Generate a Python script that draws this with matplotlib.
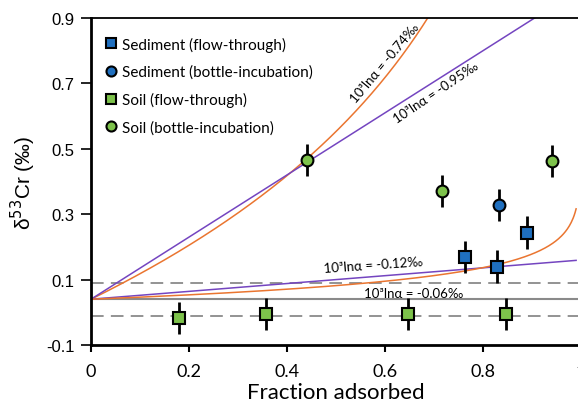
import numpy as np
import matplotlib
matplotlib.use("Agg")
import matplotlib.pyplot as plt

plt.rcParams['font.family'] = ['Lato', 'DejaVu Sans']

# initial solution composition and +/- 0.05 band
d0 = 0.04
band = 0.05

# model fractionation factors, 10^3 ln(alpha) in permil
rayleigh_big = -0.74
closed_big = -0.95
closed_small = -0.12
rayleigh_small = -0.06

# measured data (fraction adsorbed, d53Cr, 2SD)
sed_ft_x = [0.763, 0.829, 0.889]
sed_ft_y = [0.169, 0.139, 0.243]
sed_bi_x = [0.833]
sed_bi_y = [0.328]
soil_ft_x = [0.180, 0.357, 0.646, 0.847]
soil_ft_y = [-0.017, -0.005, -0.005, -0.005]
soil_bi_x = [0.441, 0.716, 0.941]
soil_bi_y = [0.466, 0.371, 0.463]
err = 0.05

blue = '#1f6fbf'
green = '#7dc24b'
orange = '#ea7530'
purple = '#7445c0'


def rayleigh(f, a):
    alpha = np.exp(a / 1000.0)
    return (d0 + 1000) * (1 - f) ** (alpha - 1) - 1000


def closed(f, a):
    return d0 - a * f


fig = plt.figure(figsize=(5.78, 4.10), dpi=100)
ax = fig.add_axes([91 / 578, 64 / 410, 490 / 578, 327 / 410])

f = np.linspace(0, 0.99, 500)
ax.plot(f, rayleigh(f, rayleigh_big), color=orange, lw=1.1, zorder=2)
ax.plot(f, closed(f, closed_big), color=purple, lw=1.1, zorder=2)
ax.plot(f, closed(f, closed_small), color=purple, lw=1.1, zorder=2)
ax.plot(f, rayleigh(f, rayleigh_small), color=orange, lw=1.1, zorder=2)

ax.axhline(d0, color='#8a8a8a', lw=1.5, zorder=1)
ax.axhline(d0 + band, color='#8a8a8a', lw=1.3, ls=(0, (7, 4)), zorder=1)
ax.axhline(d0 - band, color='#8a8a8a', lw=1.3, ls=(0, (7, 4)), zorder=1)

ebk = dict(fmt='none', ecolor='black', elinewidth=2, capsize=0, zorder=3)
mk = dict(ls='none', mec='black', mew=1.5, ms=8.5, zorder=4)
for xs, ys in [(sed_ft_x, sed_ft_y), (sed_bi_x, sed_bi_y),
               (soil_ft_x, soil_ft_y), (soil_bi_x, soil_bi_y)]:
    ax.errorbar(xs, ys, yerr=err, **ebk)
ax.plot(sed_ft_x, sed_ft_y, marker='s', mfc=blue, label='Sediment (flow-through)', **mk)
ax.plot(sed_bi_x, sed_bi_y, marker='o', mfc=blue, label='Sediment (bottle-incubation)', **mk)
ax.plot(soil_ft_x, soil_ft_y, marker='s', mfc=green, label='Soil (flow-through)', **mk)
ax.plot(soil_bi_x, soil_bi_y, marker='o', mfc=green, label='Soil (bottle-incubation)', **mk)

lab = dict(fontsize=9.5, ha='center', va='center', color='black')
ax.text(0.600, 0.765, '10³lnα = -0.74‰', rotation=50, **lab)
ax.text(0.704, 0.675, '10³lnα = -0.95‰', rotation=34, **lab)
ax.text(0.576, 0.146, '10³lnα = -0.12‰', rotation=4, **lab)
ax.text(0.659, 0.059, '10³lnα = -0.06‰', rotation=0, **lab)

ax.set_xlim(0, 1)
ax.set_ylim(-0.1, 0.9)
ax.set_xticks([0, 0.2, 0.4, 0.6, 0.8, 1])
ax.set_xticklabels(['0', '0.2', '0.4', '0.6', '0.8', '1'])
ax.set_yticks([-0.1, 0.1, 0.3, 0.5, 0.7, 0.9])
ax.set_yticklabels(['-0.1', '0.1', '0.3', '0.5', '0.7', '0.9'],
                   family=['Liberation Sans', 'DejaVu Sans'])
ax.tick_params(axis='x', labelsize=13, length=5, width=1.5, pad=8)
ax.tick_params(axis='y', labelsize=12, length=7, width=1.2, pad=5)

ax.set_xlabel('Fraction adsorbed', fontsize=16, labelpad=2)
ax.set_ylabel('δ$^{53}$Cr (‰)', fontsize=15, labelpad=6,
              family=['Liberation Sans', 'DejaVu Sans'])

for s in ['left', 'bottom']:
    ax.spines[s].set_linewidth(2)
ax.spines['top'].set_linewidth(1.3)
ax.spines['right'].set_visible(False)

leg = ax.legend(loc='upper left', bbox_to_anchor=(0.0, 0.99), frameon=False,
                fontsize=11, handlelength=0.6, handletextpad=0.45,
                labelspacing=0.85, borderaxespad=0.6, markerscale=0.85)

fig.savefig('out.png', dpi=100)
